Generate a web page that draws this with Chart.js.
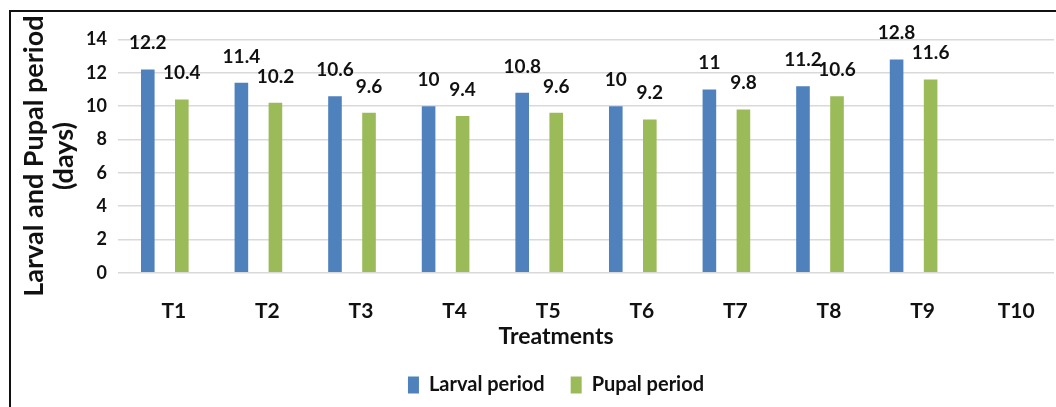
<!DOCTYPE html>
<html>
<head>
<meta charset="utf-8">
<title>Larval and Pupal period by treatment</title>
<script src="https://cdn.jsdelivr.net/npm/chart.js@4/dist/chart.umd.min.js"></script>
<style>
  html, body { margin: 0; padding: 0; background: #fff; overflow: hidden; }
  #frame {
    position: absolute; left: 9px; top: 10px;
    border: 2px solid #111; background: #fff;
    width: 1090px; height: 420px;
  }
  #c { display: block; }
</style>
</head>
<body>
<div id="frame"><canvas id="c" width="1090" height="420"></canvas></div>
<script>
// Treatments on the x axis
const treatments = ['T1', 'T2', 'T3', 'T4', 'T5', 'T6', 'T7', 'T8', 'T9', 'T10'];

// Duration in days for each treatment (T10 has no record)
const larvalPeriod = [12.2, 11.4, 10.6, 10, 10.8, 10, 11, 11.2, 12.8, null];
const pupalPeriod  = [10.4, 10.2, 9.6, 9.4, 9.6, 9.2, 9.8, 10.6, 11.6, null];

// Value axis range
const yMin = 0;
const yMax = 14;
const yStep = 2;

const FONT = 'Lato';
const INK = '#111111';
const GRID = '#d9d9d9';

// Writes each bar's value centred above it
const valueLabels = {
  id: 'valueLabels',
  afterDatasetsDraw(chart) {
    const ctx = chart.ctx;
    ctx.save();
    ctx.font = 'bold 19px ' + FONT;
    ctx.fillStyle = INK;
    ctx.textAlign = 'center';
    ctx.textBaseline = 'alphabetic';
    chart.data.datasets.forEach((ds, di) => {
      const meta = chart.getDatasetMeta(di);
      meta.data.forEach((bar, i) => {
        const v = ds.data[i];
        if (v === null || v === undefined) return;
        ctx.fillText(String(v), bar.x, bar.y - 20);
      });
    });
    ctx.restore();
  }
};

Chart.defaults.font.family = FONT;
Chart.defaults.color = INK;

new Chart(document.getElementById('c'), {
  type: 'bar',
  data: {
    labels: treatments,
    datasets: [
      {
        label: 'Larval period',
        data: larvalPeriod,
        backgroundColor: '#4f81bd',
        borderWidth: 0,
        categoryPercentage: 0.727,
        barPercentage: 0.4
      },
      {
        label: 'Pupal period',
        data: pupalPeriod,
        backgroundColor: '#9bbb59',
        borderWidth: 0,
        categoryPercentage: 0.727,
        barPercentage: 0.4
      }
    ]
  },
  options: {
    responsive: false,
    animation: false,
    events: [],
    layout: { padding: { top: 27.5, left: 0, right: 0, bottom: 27 } },
    scales: {
      x: {
        grid: { display: false },
        border: { display: false },
        ticks: {
          font: { size: 21, weight: 'bold' },
          color: INK,
          padding: 18,
          labelOffset: 9,
          maxRotation: 0
        },
        afterFit: (s) => { s.height = 48; }
      },
      y: {
        min: yMin,
        max: yMax,
        grid: { color: GRID, lineWidth: 1.6, drawTicks: false },
        border: { display: false },
        ticks: {
          stepSize: yStep,
          font: { size: 18, weight: 'bold' },
          color: INK,
          padding: 11
        },
        title: {
          display: true,
          text: ['Larval and Pupal period', '(days)'],
          font: { size: 27, weight: 'bold', lineHeight: 1.11 },
          color: INK,
          padding: { top: 8, bottom: 0 }
        },
        afterFit: (s) => { s.width = 107; }
      },
      // empty spacer on the right edge of the plot
      yRight: {
        type: 'linear',
        position: 'right',
        display: true,
        grid: { display: false },
        border: { display: false },
        ticks: { display: false },
        afterFit: (s) => { s.width = 47; }
      }
    },
    plugins: {
      tooltip: { enabled: false },
      title: {
        display: true,
        text: 'Treatments',
        position: 'bottom',
        weight: 500,
        color: INK,
        font: { size: 23, weight: 'bold', lineHeight: 1.1 },
        padding: { top: 3, bottom: 0 }
      },
      legend: {
        position: 'bottom',
        labels: {
          color: INK,
          font: { size: 20, weight: 'bold' },
          boxWidth: 11,
          boxHeight: 17,
          padding: 26
        }
      }
    }
  },
  plugins: [valueLabels]
});
</script>
</body>
</html>
